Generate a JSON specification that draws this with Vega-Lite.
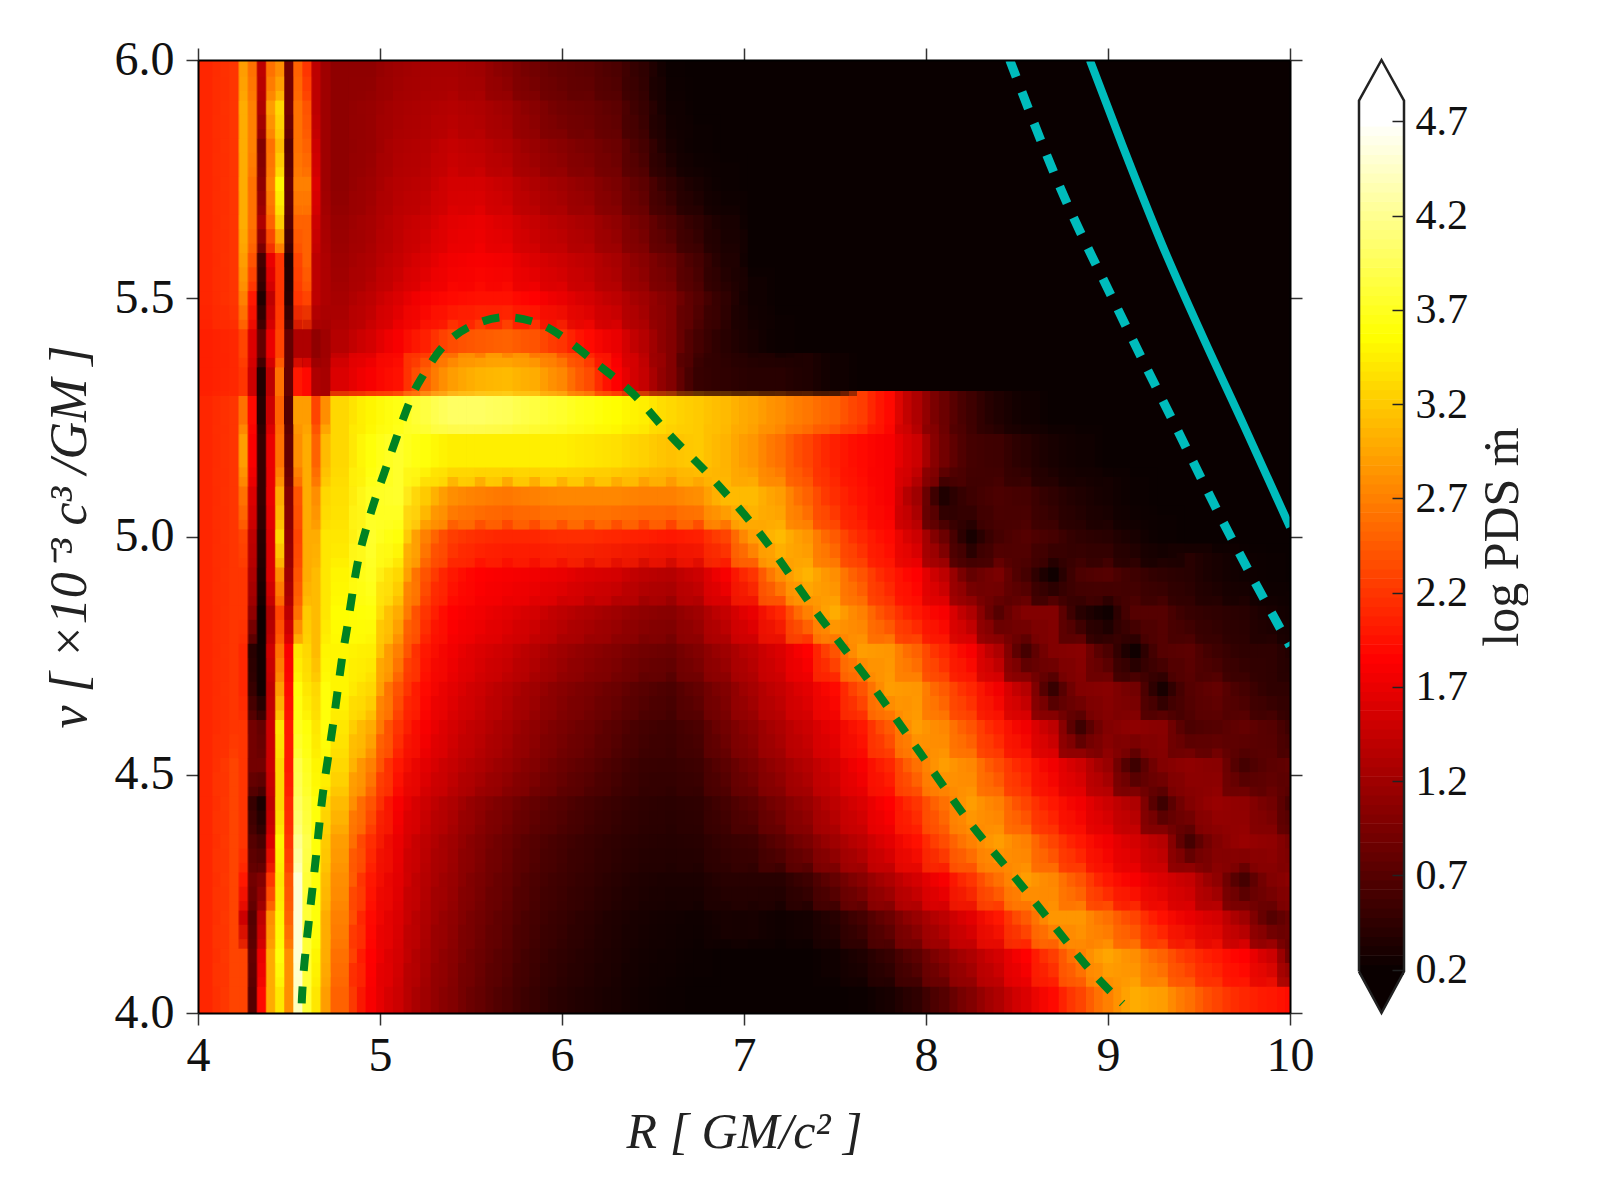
{"$schema":"https://vega.github.io/schema/vega-lite/v6.json","padding":{"left":43,"top":36,"right":0,"bottom":0},"background":"#ffffff","bounds":"flush","spacing":69,"config":{"font":"Liberation Serif"},
"datasets":{
"coarse":[
{"r":4.05,"n":4.04,"v":2.1},{"r":4.2,"n":4.04,"v":2.25},{"r":4.05,"n":4.12,"v":2.1},{"r":4.2,"n":4.12,"v":2.25},{"r":4.05,"n":4.2,"v":2.1},{"r":4.2,"n":4.2,"v":2.25},{"r":4.05,"n":4.28,"v":2.1},{"r":4.2,"n":4.28,"v":2.25},{"r":4.05,"n":4.36,"v":2.1},{"r":4.2,"n":4.36,"v":2.25},{"r":4.05,"n":4.44,"v":2.1},{"r":4.2,"n":4.44,"v":2.25},{"r":4.05,"n":4.52,"v":2.1},{"r":4.2,"n":4.52,"v":2.25},{"r":4.05,"n":4.6,"v":2.1},{"r":4.2,"n":4.6,"v":2.2},{"r":4.05,"n":4.68,"v":2.1},{"r":4.2,"n":4.68,"v":2.2},{"r":4.05,"n":4.76,"v":2.1},{"r":4.2,"n":4.76,"v":2.2},{"r":4.05,"n":4.84,"v":2.1},{"r":4.2,"n":4.84,"v":2.2},{"r":4.05,"n":4.92,"v":2.1},{"r":4.2,"n":4.92,"v":2.2},{"r":4.05,"n":5,"v":2.1},{"r":4.2,"n":5,"v":2.2},{"r":4.05,"n":5.08,"v":2.1},{"r":4.2,"n":5.08,"v":2.2},{"r":4.05,"n":5.17,"v":2.1},{"r":4.2,"n":5.17,"v":2.2},{"r":4.05,"n":5.26,"v":2.1},{"r":4.2,"n":5.26,"v":2.2},{"r":4.05,"n":5.34,"v":2.05},{"r":4.2,"n":5.34,"v":2.1},{"r":4.05,"n":5.42,"v":2.05},{"r":4.2,"n":5.42,"v":2.1},{"r":4.05,"n":5.5,"v":2.1},{"r":4.2,"n":5.5,"v":2.2},{"r":4.05,"n":5.58,"v":2.1},{"r":4.2,"n":5.58,"v":2.2},{"r":4.05,"n":5.66,"v":2.1},{"r":4.2,"n":5.66,"v":2.2},{"r":4.05,"n":5.74,"v":2.1},{"r":4.2,"n":5.74,"v":2.2},{"r":4.05,"n":5.82,"v":2.1},{"r":4.2,"n":5.82,"v":2.2},{"r":4.05,"n":5.9,"v":2.1},{"r":4.2,"n":5.9,"v":2.2},{"r":4.05,"n":5.98,"v":2.1},{"r":4.2,"n":5.98,"v":2.2},
{"r":4.8,"n":4.04,"v":2.5},{"r":4.95,"n":4.04,"v":1.8},{"r":5.1,"n":4.04,"v":1.5},{"r":5.25,"n":4.04,"v":1.2},{"r":5.4,"n":4.04,"v":1},{"r":5.55,"n":4.04,"v":0.8},{"r":5.7,"n":4.04,"v":0.65},{"r":5.85,"n":4.04,"v":0.5},{"r":6,"n":4.04,"v":0.4},{"r":6.15,"n":4.04,"v":0.35},{"r":6.3,"n":4.04,"v":0.3},{"r":6.45,"n":4.04,"v":0.25},{"r":6.6,"n":4.04,"v":0.22},{"r":7.65,"n":4.04,"v":0.22},{"r":7.8,"n":4.04,"v":0.3},{"r":7.95,"n":4.04,"v":0.45},{"r":8.1,"n":4.04,"v":0.7},{"r":8.25,"n":4.04,"v":1},{"r":8.4,"n":4.04,"v":1.3},{"r":8.55,"n":4.04,"v":1.6},{"r":8.7,"n":4.04,"v":1.9},{"r":8.85,"n":4.04,"v":2.3},{"r":9,"n":4.04,"v":2.7},{"r":9.15,"n":4.04,"v":3},{"r":9.3,"n":4.04,"v":2.9},{"r":9.45,"n":4.04,"v":2.6},{"r":9.6,"n":4.04,"v":2.3},{"r":9.75,"n":4.04,"v":2.1},{"r":9.9,"n":4.04,"v":2},{"r":10.05,"n":4.04,"v":1.9},
{"r":4.8,"n":4.12,"v":2.6},{"r":4.95,"n":4.12,"v":1.85},{"r":5.1,"n":4.12,"v":1.55},{"r":5.25,"n":4.12,"v":1.25},{"r":5.4,"n":4.12,"v":1.05},{"r":5.55,"n":4.12,"v":0.85},{"r":5.7,"n":4.12,"v":0.7},{"r":5.85,"n":4.12,"v":0.55},{"r":6,"n":4.12,"v":0.45},{"r":6.15,"n":4.12,"v":0.38},{"r":6.3,"n":4.12,"v":0.32},{"r":6.45,"n":4.12,"v":0.27},{"r":6.6,"n":4.12,"v":0.24},{"r":6.75,"n":4.12,"v":0.22},{"r":7.5,"n":4.12,"v":0.25},{"r":7.65,"n":4.12,"v":0.35},{"r":7.8,"n":4.12,"v":0.5},{"r":7.95,"n":4.12,"v":0.75},{"r":8.1,"n":4.12,"v":1.05},{"r":8.25,"n":4.12,"v":1.3},{"r":8.4,"n":4.12,"v":1.55},{"r":8.55,"n":4.12,"v":1.85},{"r":8.7,"n":4.12,"v":2.25},{"r":8.85,"n":4.12,"v":2.7},{"r":9,"n":4.12,"v":2.95},{"r":9.15,"n":4.12,"v":2.8},{"r":9.3,"n":4.12,"v":2.5},{"r":9.45,"n":4.12,"v":2.2},{"r":9.6,"n":4.12,"v":2},{"r":9.75,"n":4.12,"v":1.85},{"r":9.9,"n":4.12,"v":1.5},{"r":10.05,"n":4.12,"v":0.7},
{"r":4.8,"n":4.2,"v":2.7},{"r":4.95,"n":4.2,"v":1.9},{"r":5.1,"n":4.2,"v":1.6},{"r":5.25,"n":4.2,"v":1.3},{"r":5.4,"n":4.2,"v":1.1},{"r":5.55,"n":4.2,"v":0.9},{"r":5.7,"n":4.2,"v":0.75},{"r":5.85,"n":4.2,"v":0.6},{"r":6,"n":4.2,"v":0.5},{"r":6.15,"n":4.2,"v":0.42},{"r":6.3,"n":4.2,"v":0.35},{"r":6.45,"n":4.2,"v":0.3},{"r":6.6,"n":4.2,"v":0.27},{"r":6.75,"n":4.2,"v":0.25},{"r":6.9,"n":4.2,"v":0.3},{"r":7.05,"n":4.2,"v":0.3},{"r":7.2,"n":4.2,"v":0.25},{"r":7.35,"n":4.2,"v":0.28},{"r":7.5,"n":4.2,"v":0.4},{"r":7.65,"n":4.2,"v":0.6},{"r":7.8,"n":4.2,"v":0.85},{"r":7.95,"n":4.2,"v":1.15},{"r":8.1,"n":4.2,"v":1.4},{"r":8.25,"n":4.2,"v":1.65},{"r":8.4,"n":4.2,"v":2},{"r":8.55,"n":4.2,"v":2.45},{"r":8.7,"n":4.2,"v":2.85},{"r":8.85,"n":4.2,"v":2.85},{"r":9,"n":4.2,"v":2.6},{"r":9.15,"n":4.2,"v":2.3},{"r":9.3,"n":4.2,"v":1.95},{"r":9.45,"n":4.2,"v":1.7},{"r":9.6,"n":4.2,"v":1.55},{"r":9.75,"n":4.2,"v":1.2},{"r":9.9,"n":4.2,"v":0.7},{"r":10.05,"n":4.2,"v":0.9},
{"r":4.8,"n":4.28,"v":2.8},{"r":4.95,"n":4.28,"v":2},{"r":5.1,"n":4.28,"v":1.65},{"r":5.25,"n":4.28,"v":1.35},{"r":5.4,"n":4.28,"v":1.15},{"r":5.55,"n":4.28,"v":0.95},{"r":5.7,"n":4.28,"v":0.8},{"r":5.85,"n":4.28,"v":0.65},{"r":6,"n":4.28,"v":0.55},{"r":6.15,"n":4.28,"v":0.48},{"r":6.3,"n":4.28,"v":0.4},{"r":6.45,"n":4.28,"v":0.35},{"r":6.6,"n":4.28,"v":0.32},{"r":6.75,"n":4.28,"v":0.32},{"r":6.9,"n":4.28,"v":0.4},{"r":7.05,"n":4.28,"v":0.4},{"r":7.2,"n":4.28,"v":0.4},{"r":7.35,"n":4.28,"v":0.55},{"r":7.5,"n":4.28,"v":0.8},{"r":7.65,"n":4.28,"v":1.05},{"r":7.8,"n":4.28,"v":1.3},{"r":7.95,"n":4.28,"v":1.55},{"r":8.1,"n":4.28,"v":1.8},{"r":8.25,"n":4.28,"v":2.2},{"r":8.4,"n":4.28,"v":2.6},{"r":8.55,"n":4.28,"v":2.9},{"r":8.7,"n":4.28,"v":2.75},{"r":8.85,"n":4.28,"v":2.4},{"r":9,"n":4.28,"v":2},{"r":9.15,"n":4.28,"v":1.8},{"r":9.3,"n":4.28,"v":1.6},{"r":9.45,"n":4.28,"v":1.45},{"r":9.6,"n":4.28,"v":1.1},{"r":9.75,"n":4.28,"v":0.6},{"r":9.9,"n":4.28,"v":1},{"r":10.05,"n":4.28,"v":1.1},
{"r":4.8,"n":4.36,"v":2.9},{"r":4.95,"n":4.36,"v":2.15},{"r":5.1,"n":4.36,"v":1.7},{"r":5.25,"n":4.36,"v":1.4},{"r":5.4,"n":4.36,"v":1.2},{"r":5.55,"n":4.36,"v":1},{"r":5.7,"n":4.36,"v":0.85},{"r":5.85,"n":4.36,"v":0.7},{"r":6,"n":4.36,"v":0.6},{"r":6.15,"n":4.36,"v":0.52},{"r":6.3,"n":4.36,"v":0.45},{"r":6.45,"n":4.36,"v":0.4},{"r":6.6,"n":4.36,"v":0.38},{"r":6.75,"n":4.36,"v":0.4},{"r":6.9,"n":4.36,"v":0.5},{"r":7.05,"n":4.36,"v":0.55},{"r":7.2,"n":4.36,"v":0.75},{"r":7.35,"n":4.36,"v":0.95},{"r":7.5,"n":4.36,"v":1.2},{"r":7.65,"n":4.36,"v":1.4},{"r":7.8,"n":4.36,"v":1.65},{"r":7.95,"n":4.36,"v":1.95},{"r":8.1,"n":4.36,"v":2.35},{"r":8.25,"n":4.36,"v":2.7},{"r":8.4,"n":4.36,"v":2.9},{"r":8.55,"n":4.36,"v":2.7},{"r":8.7,"n":4.36,"v":2.3},{"r":8.85,"n":4.36,"v":2},{"r":9,"n":4.36,"v":1.75},{"r":9.15,"n":4.36,"v":1.55},{"r":9.3,"n":4.36,"v":1.35},{"r":9.45,"n":4.36,"v":0.6},{"r":9.6,"n":4.36,"v":1},{"r":9.75,"n":4.36,"v":1.15},{"r":9.9,"n":4.36,"v":1.1},{"r":10.05,"n":4.36,"v":0.9},
{"r":4.8,"n":4.44,"v":3.1},{"r":4.95,"n":4.44,"v":2.4},{"r":5.1,"n":4.44,"v":1.8},{"r":5.25,"n":4.44,"v":1.5},{"r":5.4,"n":4.44,"v":1.3},{"r":5.55,"n":4.44,"v":1.1},{"r":5.7,"n":4.44,"v":0.95},{"r":5.85,"n":4.44,"v":0.8},{"r":6,"n":4.44,"v":0.7},{"r":6.15,"n":4.44,"v":0.6},{"r":6.3,"n":4.44,"v":0.52},{"r":6.45,"n":4.44,"v":0.45},{"r":6.6,"n":4.44,"v":0.42},{"r":6.75,"n":4.44,"v":0.45},{"r":6.9,"n":4.44,"v":0.6},{"r":7.05,"n":4.44,"v":0.75},{"r":7.2,"n":4.44,"v":0.95},{"r":7.35,"n":4.44,"v":1.15},{"r":7.5,"n":4.44,"v":1.4},{"r":7.65,"n":4.44,"v":1.6},{"r":7.8,"n":4.44,"v":1.85},{"r":7.95,"n":4.44,"v":2.2},{"r":8.1,"n":4.44,"v":2.6},{"r":8.25,"n":4.44,"v":2.9},{"r":8.4,"n":4.44,"v":2.7},{"r":8.55,"n":4.44,"v":2.3},{"r":8.7,"n":4.44,"v":2},{"r":8.85,"n":4.44,"v":1.75},{"r":9,"n":4.44,"v":1.5},{"r":9.15,"n":4.44,"v":1.3},{"r":9.3,"n":4.44,"v":0.55},{"r":9.45,"n":4.44,"v":1},{"r":9.6,"n":4.44,"v":1.15},{"r":9.75,"n":4.44,"v":1.1},{"r":9.9,"n":4.44,"v":0.9},{"r":10.05,"n":4.44,"v":0.55},
{"r":4.8,"n":4.52,"v":3.3},{"r":4.95,"n":4.52,"v":2.7},{"r":5.1,"n":4.52,"v":2},{"r":5.25,"n":4.52,"v":1.65},{"r":5.4,"n":4.52,"v":1.45},{"r":5.55,"n":4.52,"v":1.3},{"r":5.7,"n":4.52,"v":1.15},{"r":5.85,"n":4.52,"v":1},{"r":6,"n":4.52,"v":0.85},{"r":6.15,"n":4.52,"v":0.75},{"r":6.3,"n":4.52,"v":0.62},{"r":6.45,"n":4.52,"v":0.52},{"r":6.6,"n":4.52,"v":0.5},{"r":6.75,"n":4.52,"v":0.55},{"r":6.9,"n":4.52,"v":0.75},{"r":7.05,"n":4.52,"v":0.95},{"r":7.2,"n":4.52,"v":1.15},{"r":7.35,"n":4.52,"v":1.35},{"r":7.5,"n":4.52,"v":1.55},{"r":7.65,"n":4.52,"v":1.8},{"r":7.8,"n":4.52,"v":2.1},{"r":7.95,"n":4.52,"v":2.6},{"r":8.1,"n":4.52,"v":2.9},{"r":8.25,"n":4.52,"v":2.75},{"r":8.4,"n":4.52,"v":2.35},{"r":8.55,"n":4.52,"v":2.05},{"r":8.7,"n":4.52,"v":1.75},{"r":8.85,"n":4.52,"v":1.5},{"r":9,"n":4.52,"v":1.15},{"r":9.15,"n":4.52,"v":0.55},{"r":9.3,"n":4.52,"v":1},{"r":9.45,"n":4.52,"v":1.1},{"r":9.6,"n":4.52,"v":1.05},{"r":9.75,"n":4.52,"v":0.6},{"r":9.9,"n":4.52,"v":0.75},{"r":10.05,"n":4.52,"v":0.8},
{"r":4.8,"n":4.6,"v":3.4},{"r":4.95,"n":4.6,"v":3},{"r":5.1,"n":4.6,"v":2.2},{"r":5.25,"n":4.6,"v":1.8},{"r":5.4,"n":4.6,"v":1.55},{"r":5.55,"n":4.6,"v":1.4},{"r":5.7,"n":4.6,"v":1.25},{"r":5.85,"n":4.6,"v":1.1},{"r":6,"n":4.6,"v":0.95},{"r":6.15,"n":4.6,"v":0.85},{"r":6.3,"n":4.6,"v":0.72},{"r":6.45,"n":4.6,"v":0.6},{"r":6.6,"n":4.6,"v":0.55},{"r":6.75,"n":4.6,"v":0.65},{"r":6.9,"n":4.6,"v":0.9},{"r":7.05,"n":4.6,"v":1.1},{"r":7.2,"n":4.6,"v":1.3},{"r":7.35,"n":4.6,"v":1.5},{"r":7.5,"n":4.6,"v":1.7},{"r":7.65,"n":4.6,"v":2},{"r":7.8,"n":4.6,"v":2.45},{"r":7.95,"n":4.6,"v":2.9},{"r":8.1,"n":4.6,"v":2.75},{"r":8.25,"n":4.6,"v":2.4},{"r":8.4,"n":4.6,"v":2.05},{"r":8.55,"n":4.6,"v":1.75},{"r":8.7,"n":4.6,"v":1.4},{"r":8.85,"n":4.6,"v":0.55},{"r":9,"n":4.6,"v":1},{"r":9.15,"n":4.6,"v":1.1},{"r":9.3,"n":4.6,"v":1.05},{"r":9.45,"n":4.6,"v":0.65},{"r":9.6,"n":4.6,"v":0.7},{"r":9.75,"n":4.6,"v":0.8},{"r":9.9,"n":4.6,"v":0.7},{"r":10.05,"n":4.6,"v":0.5},
{"r":4.8,"n":4.68,"v":3.5},{"r":4.95,"n":4.68,"v":3.3},{"r":5.1,"n":4.68,"v":2.4},{"r":5.25,"n":4.68,"v":1.9},{"r":5.4,"n":4.68,"v":1.65},{"r":5.55,"n":4.68,"v":1.5},{"r":5.7,"n":4.68,"v":1.35},{"r":5.85,"n":4.68,"v":1.2},{"r":6,"n":4.68,"v":1.05},{"r":6.15,"n":4.68,"v":0.95},{"r":6.3,"n":4.68,"v":0.85},{"r":6.45,"n":4.68,"v":0.72},{"r":6.6,"n":4.68,"v":0.65},{"r":6.75,"n":4.68,"v":0.8},{"r":6.9,"n":4.68,"v":1},{"r":7.05,"n":4.68,"v":1.25},{"r":7.2,"n":4.68,"v":1.45},{"r":7.35,"n":4.68,"v":1.65},{"r":7.5,"n":4.68,"v":1.9},{"r":7.65,"n":4.68,"v":2.4},{"r":7.8,"n":4.68,"v":2.9},{"r":7.95,"n":4.68,"v":2.85},{"r":8.1,"n":4.68,"v":2.45},{"r":8.25,"n":4.68,"v":2.1},{"r":8.4,"n":4.68,"v":1.75},{"r":8.55,"n":4.68,"v":1.35},{"r":8.7,"n":4.68,"v":0.5},{"r":8.85,"n":4.68,"v":1},{"r":9,"n":4.68,"v":1.05},{"r":9.15,"n":4.68,"v":0.9},{"r":9.3,"n":4.68,"v":0.3},{"r":9.45,"n":4.68,"v":0.7},{"r":9.6,"n":4.68,"v":0.8},{"r":9.75,"n":4.68,"v":0.6},{"r":9.9,"n":4.68,"v":0.45},{"r":10.05,"n":4.68,"v":0.45},
{"r":4.8,"n":4.76,"v":3.5},{"r":4.95,"n":4.76,"v":3.45},{"r":5.1,"n":4.76,"v":2.7},{"r":5.25,"n":4.76,"v":2},{"r":5.4,"n":4.76,"v":1.75},{"r":5.55,"n":4.76,"v":1.6},{"r":5.7,"n":4.76,"v":1.5},{"r":5.85,"n":4.76,"v":1.35},{"r":6,"n":4.76,"v":1.2},{"r":6.15,"n":4.76,"v":1.1},{"r":6.3,"n":4.76,"v":1},{"r":6.45,"n":4.76,"v":0.9},{"r":6.6,"n":4.76,"v":0.85},{"r":6.75,"n":4.76,"v":1},{"r":6.9,"n":4.76,"v":1.2},{"r":7.05,"n":4.76,"v":1.4},{"r":7.2,"n":4.76,"v":1.6},{"r":7.35,"n":4.76,"v":1.85},{"r":7.5,"n":4.76,"v":2.4},{"r":7.65,"n":4.76,"v":2.9},{"r":7.8,"n":4.76,"v":2.85},{"r":7.95,"n":4.76,"v":2.5},{"r":8.1,"n":4.76,"v":2.1},{"r":8.25,"n":4.76,"v":1.8},{"r":8.4,"n":4.76,"v":1.3},{"r":8.55,"n":4.76,"v":0.6},{"r":8.7,"n":4.76,"v":1},{"r":8.85,"n":4.76,"v":1.05},{"r":9,"n":4.76,"v":0.65},{"r":9.15,"n":4.76,"v":0.25},{"r":9.3,"n":4.76,"v":0.7},{"r":9.45,"n":4.76,"v":0.75},{"r":9.6,"n":4.76,"v":0.55},{"r":9.75,"n":4.76,"v":0.45},{"r":9.9,"n":4.76,"v":0.45},{"r":10.05,"n":4.76,"v":0.35},
{"r":4.8,"n":4.84,"v":3.55},{"r":4.95,"n":4.84,"v":3.6},{"r":5.1,"n":4.84,"v":3},{"r":5.25,"n":4.84,"v":2.2},{"r":5.4,"n":4.84,"v":1.85},{"r":5.55,"n":4.84,"v":1.75},{"r":5.7,"n":4.84,"v":1.65},{"r":5.85,"n":4.84,"v":1.55},{"r":6,"n":4.84,"v":1.4},{"r":6.15,"n":4.84,"v":1.3},{"r":6.3,"n":4.84,"v":1.2},{"r":6.45,"n":4.84,"v":1.1},{"r":6.6,"n":4.84,"v":1.05},{"r":6.75,"n":4.84,"v":1.2},{"r":6.9,"n":4.84,"v":1.45},{"r":7.05,"n":4.84,"v":1.7},{"r":7.2,"n":4.84,"v":2.1},{"r":7.35,"n":4.84,"v":2.7},{"r":7.5,"n":4.84,"v":3},{"r":7.65,"n":4.84,"v":2.7},{"r":7.8,"n":4.84,"v":2.3},{"r":7.95,"n":4.84,"v":2},{"r":8.1,"n":4.84,"v":1.8},{"r":8.25,"n":4.84,"v":1.3},{"r":8.4,"n":4.84,"v":0.7},{"r":8.55,"n":4.84,"v":1},{"r":8.7,"n":4.84,"v":1},{"r":8.85,"n":4.84,"v":0.4},{"r":9,"n":4.84,"v":0.25},{"r":9.15,"n":4.84,"v":0.7},{"r":9.3,"n":4.84,"v":0.7},{"r":9.45,"n":4.84,"v":0.5},{"r":9.6,"n":4.84,"v":0.45},{"r":9.75,"n":4.84,"v":0.4},{"r":9.9,"n":4.84,"v":0.3},{"r":10.05,"n":4.84,"v":0.25},
{"r":4.8,"n":4.92,"v":3.5},{"r":4.95,"n":4.92,"v":3.7},{"r":5.1,"n":4.92,"v":3.3},{"r":5.25,"n":4.92,"v":2.4},{"r":5.4,"n":4.92,"v":2},{"r":5.55,"n":4.92,"v":1.85},{"r":5.7,"n":4.92,"v":1.8},{"r":5.85,"n":4.92,"v":1.75},{"r":6,"n":4.92,"v":1.7},{"r":6.15,"n":4.92,"v":1.6},{"r":6.3,"n":4.92,"v":1.55},{"r":6.45,"n":4.92,"v":1.4},{"r":6.6,"n":4.92,"v":1.35},{"r":6.75,"n":4.92,"v":1.5},{"r":6.9,"n":4.92,"v":1.8},{"r":7.05,"n":4.92,"v":2.2},{"r":7.2,"n":4.92,"v":2.8},{"r":7.35,"n":4.92,"v":3.05},{"r":7.5,"n":4.92,"v":2.8},{"r":7.65,"n":4.92,"v":2.4},{"r":7.8,"n":4.92,"v":2.05},{"r":7.95,"n":4.92,"v":1.85},{"r":8.1,"n":4.92,"v":1.4},{"r":8.25,"n":4.92,"v":0.8},{"r":8.4,"n":4.92,"v":0.95},{"r":8.55,"n":4.92,"v":0.6},{"r":8.7,"n":4.92,"v":0.25},{"r":8.85,"n":4.92,"v":0.65},{"r":9,"n":4.92,"v":0.7},{"r":9.15,"n":4.92,"v":0.55},{"r":9.3,"n":4.92,"v":0.45},{"r":9.45,"n":4.92,"v":0.4},{"r":9.6,"n":4.92,"v":0.3},{"r":9.75,"n":4.92,"v":0.25},{"r":9.9,"n":4.92,"v":0.22},
{"r":4.8,"n":5,"v":3.4},{"r":4.95,"n":5,"v":3.75},{"r":5.1,"n":5,"v":3.6},{"r":5.25,"n":5,"v":2.7},{"r":5.4,"n":5,"v":2.25},{"r":5.55,"n":5,"v":2.15},{"r":5.7,"n":5,"v":2.1},{"r":5.85,"n":5,"v":2.1},{"r":6,"n":5,"v":2.15},{"r":6.15,"n":5,"v":2.15},{"r":6.3,"n":5,"v":2.1},{"r":6.45,"n":5,"v":2.05},{"r":6.6,"n":5,"v":2},{"r":6.75,"n":5,"v":2.05},{"r":6.9,"n":5,"v":2.3},{"r":7.05,"n":5,"v":2.9},{"r":7.2,"n":5,"v":3.1},{"r":7.35,"n":5,"v":2.85},{"r":7.5,"n":5,"v":2.45},{"r":7.65,"n":5,"v":2.1},{"r":7.8,"n":5,"v":1.9},{"r":7.95,"n":5,"v":1.5},{"r":8.1,"n":5,"v":0.85},{"r":8.25,"n":5,"v":0.3},{"r":8.4,"n":5,"v":0.6},{"r":8.55,"n":5,"v":0.7},{"r":8.7,"n":5,"v":0.6},{"r":8.85,"n":5,"v":0.45},{"r":9,"n":5,"v":0.4},{"r":9.15,"n":5,"v":0.3},{"r":9.3,"n":5,"v":0.22},
{"r":4.8,"n":5.08,"v":3.35},{"r":4.95,"n":5.08,"v":3.7},{"r":5.1,"n":5.08,"v":3.75},{"r":5.25,"n":5.08,"v":3.2},{"r":5.4,"n":5.08,"v":2.8},{"r":5.55,"n":5.08,"v":2.7},{"r":5.7,"n":5.08,"v":2.65},{"r":5.85,"n":5.08,"v":2.7},{"r":6,"n":5.08,"v":2.75},{"r":6.15,"n":5.08,"v":2.75},{"r":6.3,"n":5.08,"v":2.75},{"r":6.45,"n":5.08,"v":2.7},{"r":6.6,"n":5.08,"v":2.7},{"r":6.75,"n":5.08,"v":2.8},{"r":6.9,"n":5.08,"v":3.1},{"r":7.05,"n":5.08,"v":3.1},{"r":7.2,"n":5.08,"v":2.9},{"r":7.35,"n":5.08,"v":2.5},{"r":7.5,"n":5.08,"v":2.15},{"r":7.65,"n":5.08,"v":1.95},{"r":7.8,"n":5.08,"v":1.8},{"r":7.95,"n":5.08,"v":1.2},{"r":8.1,"n":5.08,"v":0.35},{"r":8.25,"n":5.08,"v":0.55},{"r":8.4,"n":5.08,"v":0.65},{"r":8.55,"n":5.08,"v":0.6},{"r":8.7,"n":5.08,"v":0.45},{"r":8.85,"n":5.08,"v":0.35},{"r":9,"n":5.08,"v":0.28},{"r":9.15,"n":5.08,"v":0.22},
{"r":4.8,"n":5.17,"v":3.3},{"r":4.95,"n":5.17,"v":3.6},{"r":5.1,"n":5.17,"v":3.75},{"r":5.25,"n":5.17,"v":3.6},{"r":5.4,"n":5.17,"v":3.45},{"r":5.55,"n":5.17,"v":3.45},{"r":5.7,"n":5.17,"v":3.45},{"r":5.85,"n":5.17,"v":3.45},{"r":6,"n":5.17,"v":3.45},{"r":6.15,"n":5.17,"v":3.4},{"r":6.3,"n":5.17,"v":3.35},{"r":6.45,"n":5.17,"v":3.25},{"r":6.6,"n":5.17,"v":3.15},{"r":6.75,"n":5.17,"v":3.2},{"r":6.9,"n":5.17,"v":3.05},{"r":7.05,"n":5.17,"v":2.85},{"r":7.2,"n":5.17,"v":2.6},{"r":7.35,"n":5.17,"v":2.3},{"r":7.5,"n":5.17,"v":2.05},{"r":7.65,"n":5.17,"v":1.9},{"r":7.8,"n":5.17,"v":1.8},{"r":7.95,"n":5.17,"v":1.5},{"r":8.1,"n":5.17,"v":0.9},{"r":8.25,"n":5.17,"v":0.6},{"r":8.4,"n":5.17,"v":0.55},{"r":8.55,"n":5.17,"v":0.4},{"r":8.7,"n":5.17,"v":0.3},{"r":8.85,"n":5.17,"v":0.25},
{"r":4.8,"n":5.26,"v":3.3},{"r":4.95,"n":5.26,"v":3.5},{"r":5.1,"n":5.26,"v":3.65},{"r":5.25,"n":5.26,"v":3.85},{"r":5.4,"n":5.26,"v":4},{"r":5.55,"n":5.26,"v":4},{"r":5.7,"n":5.26,"v":3.95},{"r":5.85,"n":5.26,"v":3.85},{"r":6,"n":5.26,"v":3.75},{"r":6.15,"n":5.26,"v":3.65},{"r":6.3,"n":5.26,"v":3.55},{"r":6.45,"n":5.26,"v":3.45},{"r":6.6,"n":5.26,"v":3.3},{"r":6.75,"n":5.26,"v":3.2},{"r":6.9,"n":5.26,"v":3.1},{"r":7.05,"n":5.26,"v":2.95},{"r":7.2,"n":5.26,"v":2.8},{"r":7.35,"n":5.26,"v":2.65},{"r":7.5,"n":5.26,"v":2.5},{"r":7.65,"n":5.26,"v":2.25},{"r":7.8,"n":5.26,"v":1.9},{"r":7.95,"n":5.26,"v":1.3},{"r":8.1,"n":5.26,"v":0.85},{"r":8.25,"n":5.26,"v":0.55},{"r":8.4,"n":5.26,"v":0.35},{"r":8.55,"n":5.26,"v":0.25},
{"r":4.8,"n":5.34,"v":1.6},{"r":4.95,"n":5.34,"v":1.8},{"r":5.1,"n":5.34,"v":1.95},{"r":5.25,"n":5.34,"v":2.5},{"r":5.4,"n":5.34,"v":2.9},{"r":5.55,"n":5.34,"v":3.05},{"r":5.7,"n":5.34,"v":3.1},{"r":5.85,"n":5.34,"v":3},{"r":6,"n":5.34,"v":2.75},{"r":6.15,"n":5.34,"v":2.35},{"r":6.3,"n":5.34,"v":1.85},{"r":6.45,"n":5.34,"v":1.45},{"r":6.6,"n":5.34,"v":1},{"r":6.75,"n":5.34,"v":0.5},{"r":6.9,"n":5.34,"v":0.45},{"r":7.05,"n":5.34,"v":0.4},{"r":7.2,"n":5.34,"v":0.4},{"r":7.35,"n":5.34,"v":0.35},{"r":7.5,"n":5.34,"v":0.25},
{"r":4.8,"n":5.42,"v":1.35},{"r":4.95,"n":5.42,"v":1.55},{"r":5.1,"n":5.42,"v":1.8},{"r":5.25,"n":5.42,"v":2.05},{"r":5.4,"n":5.42,"v":2.35},{"r":5.55,"n":5.42,"v":2.45},{"r":5.7,"n":5.42,"v":2.5},{"r":5.85,"n":5.42,"v":2.4},{"r":6,"n":5.42,"v":2.2},{"r":6.15,"n":5.42,"v":1.9},{"r":6.3,"n":5.42,"v":1.7},{"r":6.45,"n":5.42,"v":1.35},{"r":6.6,"n":5.42,"v":1},{"r":6.75,"n":5.42,"v":0.6},{"r":6.9,"n":5.42,"v":0.4},{"r":7.05,"n":5.42,"v":0.3},{"r":7.2,"n":5.42,"v":0.22},
{"r":4.8,"n":5.5,"v":1.25},{"r":4.95,"n":5.5,"v":1.4},{"r":5.1,"n":5.5,"v":1.6},{"r":5.25,"n":5.5,"v":1.8},{"r":5.4,"n":5.5,"v":1.9},{"r":5.55,"n":5.5,"v":1.95},{"r":5.7,"n":5.5,"v":1.95},{"r":5.85,"n":5.5,"v":1.85},{"r":6,"n":5.5,"v":1.7},{"r":6.15,"n":5.5,"v":1.55},{"r":6.3,"n":5.5,"v":1.4},{"r":6.45,"n":5.5,"v":1.2},{"r":6.6,"n":5.5,"v":1},{"r":6.75,"n":5.5,"v":0.7},{"r":6.9,"n":5.5,"v":0.45},{"r":7.05,"n":5.5,"v":0.25},
{"r":4.8,"n":5.58,"v":1.2},{"r":4.95,"n":5.58,"v":1.3},{"r":5.1,"n":5.58,"v":1.45},{"r":5.25,"n":5.58,"v":1.6},{"r":5.4,"n":5.58,"v":1.75},{"r":5.55,"n":5.58,"v":1.8},{"r":5.7,"n":5.58,"v":1.75},{"r":5.85,"n":5.58,"v":1.6},{"r":6,"n":5.58,"v":1.5},{"r":6.15,"n":5.58,"v":1.4},{"r":6.3,"n":5.58,"v":1.25},{"r":6.45,"n":5.58,"v":1.05},{"r":6.6,"n":5.58,"v":0.85},{"r":6.75,"n":5.58,"v":0.6},{"r":6.9,"n":5.58,"v":0.35},
{"r":4.8,"n":5.66,"v":1.15},{"r":4.95,"n":5.66,"v":1.25},{"r":5.1,"n":5.66,"v":1.4},{"r":5.25,"n":5.66,"v":1.5},{"r":5.4,"n":5.66,"v":1.65},{"r":5.55,"n":5.66,"v":1.7},{"r":5.7,"n":5.66,"v":1.6},{"r":5.85,"n":5.66,"v":1.45},{"r":6,"n":5.66,"v":1.35},{"r":6.15,"n":5.66,"v":1.25},{"r":6.3,"n":5.66,"v":1.1},{"r":6.45,"n":5.66,"v":0.9},{"r":6.6,"n":5.66,"v":0.65},{"r":6.75,"n":5.66,"v":0.45},{"r":6.9,"n":5.66,"v":0.3},
{"r":4.8,"n":5.74,"v":1.1},{"r":4.95,"n":5.74,"v":1.2},{"r":5.1,"n":5.74,"v":1.35},{"r":5.25,"n":5.74,"v":1.4},{"r":5.4,"n":5.74,"v":1.55},{"r":5.55,"n":5.74,"v":1.55},{"r":5.7,"n":5.74,"v":1.45},{"r":5.85,"n":5.74,"v":1.3},{"r":6,"n":5.74,"v":1.2},{"r":6.15,"n":5.74,"v":1.1},{"r":6.3,"n":5.74,"v":0.95},{"r":6.45,"n":5.74,"v":0.75},{"r":6.6,"n":5.74,"v":0.45},{"r":6.75,"n":5.74,"v":0.3},{"r":6.9,"n":5.74,"v":0.22},
{"r":4.8,"n":5.82,"v":1.1},{"r":4.95,"n":5.82,"v":1.15},{"r":5.1,"n":5.82,"v":1.3},{"r":5.25,"n":5.82,"v":1.35},{"r":5.4,"n":5.82,"v":1.45},{"r":5.55,"n":5.82,"v":1.4},{"r":5.7,"n":5.82,"v":1.3},{"r":5.85,"n":5.82,"v":1.15},{"r":6,"n":5.82,"v":1.05},{"r":6.15,"n":5.82,"v":0.95},{"r":6.3,"n":5.82,"v":0.85},{"r":6.45,"n":5.82,"v":0.6},{"r":6.6,"n":5.82,"v":0.3},{"r":6.75,"n":5.82,"v":0.22},
{"r":4.8,"n":5.9,"v":1.1},{"r":4.95,"n":5.9,"v":1.15},{"r":5.1,"n":5.9,"v":1.25},{"r":5.25,"n":5.9,"v":1.3},{"r":5.4,"n":5.9,"v":1.35},{"r":5.55,"n":5.9,"v":1.3},{"r":5.7,"n":5.9,"v":1.2},{"r":5.85,"n":5.9,"v":1.05},{"r":6,"n":5.9,"v":0.9},{"r":6.15,"n":5.9,"v":0.85},{"r":6.3,"n":5.9,"v":0.75},{"r":6.45,"n":5.9,"v":0.5},{"r":6.6,"n":5.9,"v":0.25},
{"r":4.8,"n":5.98,"v":1.1},{"r":4.95,"n":5.98,"v":1.1},{"r":5.1,"n":5.98,"v":1.2},{"r":5.25,"n":5.98,"v":1.25},{"r":5.4,"n":5.98,"v":1.25},{"r":5.55,"n":5.98,"v":1.2},{"r":5.7,"n":5.98,"v":1.05},{"r":5.85,"n":5.98,"v":0.9},{"r":6,"n":5.98,"v":0.8},{"r":6.15,"n":5.98,"v":0.75},{"r":6.3,"n":5.98,"v":0.65},{"r":6.45,"n":5.98,"v":0.45},{"r":6.6,"n":5.98,"v":0.22}
],
"fine":[
{"r":4.2,"n":4.04,"v":2.3},{"r":4.25,"n":4.04,"v":2.3},{"r":4.3,"n":4.04,"v":0.7},{"r":4.35,"n":4.04,"v":1.9},{"r":4.4,"n":4.04,"v":3},{"r":4.45,"n":4.04,"v":3.4},{"r":4.5,"n":4.04,"v":2.8},{"r":4.55,"n":4.04,"v":4.4},{"r":4.6,"n":4.04,"v":3.8},{"r":4.65,"n":4.04,"v":3.4},{"r":4.7,"n":4.04,"v":2.9},
{"r":4.2,"n":4.12,"v":2.3},{"r":4.25,"n":4.12,"v":2.3},{"r":4.3,"n":4.12,"v":0.8},{"r":4.35,"n":4.12,"v":1.7},{"r":4.4,"n":4.12,"v":3},{"r":4.45,"n":4.12,"v":3.6},{"r":4.5,"n":4.12,"v":2.8},{"r":4.55,"n":4.12,"v":4.5},{"r":4.6,"n":4.12,"v":3.8},{"r":4.65,"n":4.12,"v":3.5},{"r":4.7,"n":4.12,"v":3},
{"r":4.2,"n":4.2,"v":2.3},{"r":4.25,"n":4.2,"v":1.5},{"r":4.3,"n":4.2,"v":0.7},{"r":4.35,"n":4.2,"v":1.4},{"r":4.4,"n":4.2,"v":2.8},{"r":4.45,"n":4.2,"v":3.5},{"r":4.5,"n":4.2,"v":2.5},{"r":4.55,"n":4.2,"v":4.5},{"r":4.6,"n":4.2,"v":3.8},{"r":4.65,"n":4.2,"v":3.6},{"r":4.7,"n":4.2,"v":3},
{"r":4.2,"n":4.28,"v":2.3},{"r":4.25,"n":4.28,"v":2},{"r":4.3,"n":4.28,"v":0.9},{"r":4.35,"n":4.28,"v":1},{"r":4.4,"n":4.28,"v":2.2},{"r":4.45,"n":4.28,"v":3.4},{"r":4.5,"n":4.28,"v":2.4},{"r":4.55,"n":4.28,"v":4.5},{"r":4.6,"n":4.28,"v":3.8},{"r":4.65,"n":4.28,"v":3.6},{"r":4.7,"n":4.28,"v":3.1},
{"r":4.2,"n":4.36,"v":2.3},{"r":4.25,"n":4.36,"v":2.2},{"r":4.3,"n":4.36,"v":0.7},{"r":4.35,"n":4.36,"v":0.6},{"r":4.4,"n":4.36,"v":1.6},{"r":4.45,"n":4.36,"v":3.5},{"r":4.5,"n":4.36,"v":2.2},{"r":4.55,"n":4.36,"v":4.2},{"r":4.6,"n":4.36,"v":3.9},{"r":4.65,"n":4.36,"v":3.6},{"r":4.7,"n":4.36,"v":3.2},
{"r":4.2,"n":4.44,"v":2.3},{"r":4.25,"n":4.44,"v":2.2},{"r":4.3,"n":4.44,"v":0.5},{"r":4.35,"n":4.44,"v":0.3},{"r":4.4,"n":4.44,"v":1.4},{"r":4.45,"n":4.44,"v":3.3},{"r":4.5,"n":4.44,"v":2.1},{"r":4.55,"n":4.44,"v":4},{"r":4.6,"n":4.44,"v":3.8},{"r":4.65,"n":4.44,"v":3.6},{"r":4.7,"n":4.44,"v":3.3},
{"r":4.2,"n":4.52,"v":2.3},{"r":4.25,"n":4.52,"v":2.2},{"r":4.3,"n":4.52,"v":0.9},{"r":4.35,"n":4.52,"v":0.9},{"r":4.4,"n":4.52,"v":1.5},{"r":4.45,"n":4.52,"v":3.3},{"r":4.5,"n":4.52,"v":2},{"r":4.55,"n":4.52,"v":3.9},{"r":4.6,"n":4.52,"v":3.7},{"r":4.65,"n":4.52,"v":3.5},{"r":4.7,"n":4.52,"v":3.5},
{"r":4.2,"n":4.6,"v":2.2},{"r":4.25,"n":4.6,"v":2.2},{"r":4.3,"n":4.6,"v":0.9},{"r":4.35,"n":4.6,"v":0.8},{"r":4.4,"n":4.6,"v":1.5},{"r":4.45,"n":4.6,"v":3.4},{"r":4.5,"n":4.6,"v":2},{"r":4.55,"n":4.6,"v":3.7},{"r":4.6,"n":4.6,"v":3.6},{"r":4.65,"n":4.6,"v":3.4},{"r":4.7,"n":4.6,"v":3.6},
{"r":4.2,"n":4.68,"v":2.2},{"r":4.25,"n":4.68,"v":2.1},{"r":4.3,"n":4.68,"v":0.5},{"r":4.35,"n":4.68,"v":0.25},{"r":4.4,"n":4.68,"v":1.4},{"r":4.45,"n":4.68,"v":2.9},{"r":4.5,"n":4.68,"v":1.9},{"r":4.55,"n":4.68,"v":3.6},{"r":4.6,"n":4.68,"v":3.4},{"r":4.65,"n":4.68,"v":3.3},{"r":4.7,"n":4.68,"v":3.6},
{"r":4.2,"n":4.76,"v":2.2},{"r":4.25,"n":4.76,"v":2.1},{"r":4.3,"n":4.76,"v":0.4},{"r":4.35,"n":4.76,"v":0.25},{"r":4.4,"n":4.76,"v":1.5},{"r":4.45,"n":4.76,"v":2.6},{"r":4.5,"n":4.76,"v":1.8},{"r":4.55,"n":4.76,"v":3.4},{"r":4.6,"n":4.76,"v":3.3},{"r":4.65,"n":4.76,"v":3.1},{"r":4.7,"n":4.76,"v":3.5},
{"r":4.2,"n":4.84,"v":2.2},{"r":4.25,"n":4.84,"v":2.2},{"r":4.3,"n":4.84,"v":1.1},{"r":4.35,"n":4.84,"v":0.22},{"r":4.4,"n":4.84,"v":1.3},{"r":4.45,"n":4.84,"v":2.3},{"r":4.5,"n":4.84,"v":1.4},{"r":4.55,"n":4.84,"v":2.6},{"r":4.6,"n":4.84,"v":3.2},{"r":4.65,"n":4.84,"v":3.1},{"r":4.7,"n":4.84,"v":3.4},
{"r":4.2,"n":4.92,"v":2.2},{"r":4.25,"n":4.92,"v":2.2},{"r":4.3,"n":4.92,"v":1.3},{"r":4.35,"n":4.92,"v":0.35},{"r":4.4,"n":4.92,"v":1.6},{"r":4.45,"n":4.92,"v":2.8},{"r":4.5,"n":4.92,"v":1.2},{"r":4.55,"n":4.92,"v":2.4},{"r":4.6,"n":4.92,"v":3},{"r":4.65,"n":4.92,"v":3.1},{"r":4.7,"n":4.92,"v":3.4},
{"r":4.2,"n":5,"v":2.2},{"r":4.25,"n":5,"v":2.3},{"r":4.3,"n":5,"v":1.4},{"r":4.35,"n":5,"v":0.4},{"r":4.4,"n":5,"v":1.6},{"r":4.45,"n":5,"v":3.3},{"r":4.5,"n":5,"v":1.1},{"r":4.55,"n":5,"v":2.3},{"r":4.6,"n":5,"v":3},{"r":4.65,"n":5,"v":3},{"r":4.7,"n":5,"v":3.4},
{"r":4.2,"n":5.08,"v":2.2},{"r":4.25,"n":5.08,"v":2.6},{"r":4.3,"n":5.08,"v":1.6},{"r":4.35,"n":5.08,"v":0.5},{"r":4.4,"n":5.08,"v":1.7},{"r":4.45,"n":5.08,"v":3},{"r":4.5,"n":5.08,"v":1},{"r":4.55,"n":5.08,"v":2.4},{"r":4.6,"n":5.08,"v":3},{"r":4.65,"n":5.08,"v":2.8},{"r":4.7,"n":5.08,"v":3.3},
{"r":4.2,"n":5.17,"v":2.2},{"r":4.25,"n":5.17,"v":2.9},{"r":4.3,"n":5.17,"v":1.8},{"r":4.35,"n":5.17,"v":0.5},{"r":4.4,"n":5.17,"v":1.7},{"r":4.45,"n":5.17,"v":2.6},{"r":4.5,"n":5.17,"v":0.8},{"r":4.55,"n":5.17,"v":2.8},{"r":4.6,"n":5.17,"v":3},{"r":4.65,"n":5.17,"v":2.5},{"r":4.7,"n":5.17,"v":3.1},
{"r":4.2,"n":5.26,"v":2.2},{"r":4.25,"n":5.26,"v":2.6},{"r":4.3,"n":5.26,"v":1.9},{"r":4.35,"n":5.26,"v":0.4},{"r":4.4,"n":5.26,"v":1.5},{"r":4.45,"n":5.26,"v":2.5},{"r":4.5,"n":5.26,"v":0.7},{"r":4.55,"n":5.26,"v":2.9},{"r":4.6,"n":5.26,"v":2.9},{"r":4.65,"n":5.26,"v":2.3},{"r":4.7,"n":5.26,"v":2.8},
{"r":4.2,"n":5.34,"v":2.1},{"r":4.25,"n":5.34,"v":2.2},{"r":4.3,"n":5.34,"v":1.5},{"r":4.35,"n":5.34,"v":0.35},{"r":4.4,"n":5.34,"v":1.4},{"r":4.45,"n":5.34,"v":2.6},{"r":4.5,"n":5.34,"v":0.8},{"r":4.55,"n":5.34,"v":2},{"r":4.6,"n":5.34,"v":1.9},{"r":4.65,"n":5.34,"v":1.3},{"r":4.7,"n":5.34,"v":1.25},
{"r":4.2,"n":5.42,"v":2.1},{"r":4.25,"n":5.42,"v":2.3},{"r":4.3,"n":5.42,"v":1.6},{"r":4.35,"n":5.42,"v":0.8},{"r":4.4,"n":5.42,"v":1.7},{"r":4.45,"n":5.42,"v":2.3},{"r":4.5,"n":5.42,"v":0.8},{"r":4.55,"n":5.42,"v":1.3},{"r":4.6,"n":5.42,"v":1.3},{"r":4.65,"n":5.42,"v":1.1},{"r":4.7,"n":5.42,"v":1.2},
{"r":4.2,"n":5.5,"v":2.2},{"r":4.25,"n":5.5,"v":2.7},{"r":4.3,"n":5.5,"v":2},{"r":4.35,"n":5.5,"v":0.35},{"r":4.4,"n":5.5,"v":1.4},{"r":4.45,"n":5.5,"v":2.2},{"r":4.5,"n":5.5,"v":0.4},{"r":4.55,"n":5.5,"v":2.2},{"r":4.6,"n":5.5,"v":2.3},{"r":4.65,"n":5.5,"v":1.4},{"r":4.7,"n":5.5,"v":1.3},
{"r":4.2,"n":5.58,"v":2.2},{"r":4.25,"n":5.58,"v":2.9},{"r":4.3,"n":5.58,"v":2.4},{"r":4.35,"n":5.58,"v":0.6},{"r":4.4,"n":5.58,"v":1.7},{"r":4.45,"n":5.58,"v":2.2},{"r":4.5,"n":5.58,"v":0.35},{"r":4.55,"n":5.58,"v":2.3},{"r":4.6,"n":5.58,"v":2.5},{"r":4.65,"n":5.58,"v":1.4},{"r":4.7,"n":5.58,"v":1.3},
{"r":4.2,"n":5.66,"v":2.2},{"r":4.25,"n":5.66,"v":3},{"r":4.3,"n":5.66,"v":2.6},{"r":4.35,"n":5.66,"v":1.3},{"r":4.4,"n":5.66,"v":2.5},{"r":4.45,"n":5.66,"v":3.2},{"r":4.5,"n":5.66,"v":0.7},{"r":4.55,"n":5.66,"v":2.5},{"r":4.6,"n":5.66,"v":2.5},{"r":4.65,"n":5.66,"v":1.5},{"r":4.7,"n":5.66,"v":1.25},
{"r":4.2,"n":5.74,"v":2.2},{"r":4.25,"n":5.74,"v":3},{"r":4.3,"n":5.74,"v":2.6},{"r":4.35,"n":5.74,"v":1.1},{"r":4.4,"n":5.74,"v":2.7},{"r":4.45,"n":5.74,"v":3.5},{"r":4.5,"n":5.74,"v":0.8},{"r":4.55,"n":5.74,"v":2.7},{"r":4.6,"n":5.74,"v":2.7},{"r":4.65,"n":5.74,"v":1.6},{"r":4.7,"n":5.74,"v":1.2},
{"r":4.2,"n":5.82,"v":2.2},{"r":4.25,"n":5.82,"v":3},{"r":4.3,"n":5.82,"v":2.7},{"r":4.35,"n":5.82,"v":1},{"r":4.4,"n":5.82,"v":2.6},{"r":4.45,"n":5.82,"v":3.1},{"r":4.5,"n":5.82,"v":0.7},{"r":4.55,"n":5.82,"v":2.6},{"r":4.6,"n":5.82,"v":2.5},{"r":4.65,"n":5.82,"v":1.5},{"r":4.7,"n":5.82,"v":1.2},
{"r":4.2,"n":5.9,"v":2.2},{"r":4.25,"n":5.9,"v":3},{"r":4.3,"n":5.9,"v":2.7},{"r":4.35,"n":5.9,"v":1.3},{"r":4.4,"n":5.9,"v":2.9},{"r":4.45,"n":5.9,"v":3.3},{"r":4.5,"n":5.9,"v":0.9},{"r":4.55,"n":5.9,"v":2.6},{"r":4.6,"n":5.9,"v":2.4},{"r":4.65,"n":5.9,"v":1.4},{"r":4.7,"n":5.9,"v":1.2},
{"r":4.2,"n":5.98,"v":2.2},{"r":4.25,"n":5.98,"v":2.9},{"r":4.3,"n":5.98,"v":2.6},{"r":4.35,"n":5.98,"v":1.4},{"r":4.4,"n":5.98,"v":2.6},{"r":4.45,"n":5.98,"v":2.8},{"r":4.5,"n":5.98,"v":0.9},{"r":4.55,"n":5.98,"v":2.5},{"r":4.6,"n":5.98,"v":2.2},{"r":4.65,"n":5.98,"v":1.4},{"r":4.7,"n":5.98,"v":1.2}
],
"green":[{"r":4.57,"n":4.02},{"r":4.586,"n":4.11},{"r":4.646,"n":4.32},{"r":4.686,"n":4.46},{"r":4.74,"n":4.6},{"r":4.79,"n":4.74},{"r":4.82,"n":4.81},{"r":4.88,"n":4.95},{"r":4.95,"n":5.05},{"r":5.02,"n":5.13},{"r":5.16,"n":5.28},{"r":5.24,"n":5.34},{"r":5.35,"n":5.4},{"r":5.49,"n":5.44},{"r":5.67,"n":5.46},{"r":5.85,"n":5.45},{"r":6,"n":5.42},{"r":6.2,"n":5.36},{"r":6.39,"n":5.3},{"r":6.6,"n":5.21},{"r":6.83,"n":5.12},{"r":7.1,"n":5},{"r":7.4,"n":4.84},{"r":7.68,"n":4.7},{"r":7.96,"n":4.55},{"r":8.24,"n":4.4},{"r":8.52,"n":4.27},{"r":8.88,"n":4.1},{"r":9.08,"n":4.02}],
"cyanDash":[{"r":8.46,"n":6},{"r":8.74,"n":5.73},{"r":9.05,"n":5.48},{"r":9.36,"n":5.24},{"r":9.66,"n":5.01},{"r":10,"n":4.77}],
"cyanLine":[{"r":8.9,"n":6},{"r":9.08,"n":5.82},{"r":9.3,"n":5.61},{"r":9.52,"n":5.42},{"r":9.75,"n":5.23},{"r":10,"n":5.02}],
"bar":[{"v":0.2},{"v":0.25},{"v":0.3},{"v":0.35},{"v":0.4},{"v":0.45},{"v":0.5},{"v":0.55},{"v":0.6},{"v":0.65},{"v":0.7},{"v":0.75},{"v":0.8},{"v":0.85},{"v":0.9},{"v":0.95},{"v":1},{"v":1.05},{"v":1.1},{"v":1.15},{"v":1.2},{"v":1.25},{"v":1.3},{"v":1.35},{"v":1.4},{"v":1.45},{"v":1.5},{"v":1.55},{"v":1.6},{"v":1.65},{"v":1.7},{"v":1.75},{"v":1.8},{"v":1.85},{"v":1.9},{"v":1.95},{"v":2},{"v":2.05},{"v":2.1},{"v":2.15},{"v":2.2},{"v":2.25},{"v":2.3},{"v":2.35},{"v":2.4},{"v":2.45},{"v":2.5},{"v":2.55},{"v":2.6},{"v":2.65},{"v":2.7},{"v":2.75},{"v":2.8},{"v":2.85},{"v":2.9},{"v":2.95},{"v":3},{"v":3.05},{"v":3.1},{"v":3.15},{"v":3.2},{"v":3.25},{"v":3.3},{"v":3.35},{"v":3.4},{"v":3.45},{"v":3.5},{"v":3.55},{"v":3.6},{"v":3.65},{"v":3.7},{"v":3.75},{"v":3.8},{"v":3.85},{"v":3.9},{"v":3.95},{"v":4},{"v":4.05},{"v":4.1},{"v":4.15},{"v":4.2},{"v":4.25},{"v":4.3},{"v":4.35},{"v":4.4},{"v":4.45},{"v":4.5},{"v":4.55},{"v":4.6},{"v":4.65},{"v":4.7},{"v":4.75},{"v":4.8}],
"tipLow":[{"x":0,"y":0.19,"y2":0.19},{"x":0.5,"y":0.19,"y2":-0.03},{"x":1,"y":0.19,"y2":0.19}],
"outline":[{"o":0,"x":0,"y":0.19},{"o":1,"x":0.5,"y":-0.03},{"o":2,"x":1,"y":0.19},{"o":3,"x":1,"y":4.811},{"o":4,"x":0.5,"y":5.026},{"o":5,"x":0,"y":4.811},{"o":6,"x":0,"y":0.19}]
},
"hconcat":[
{"width":1092,"height":953,"view":{"fill":"#0a0000","stroke":null},
"resolve":{"axis":{"x":"independent","y":"independent"}},
"layer":[
{"data":{"name":"coarse"},"mark":{"type":"rect","width":28,"height":43,"clip":true},
"encoding":{
"x":{"field":"r","type":"quantitative","scale":{"domain":[4,10],"nice":false,"zero":false},"axis":{"orient":"bottom","values":[4,5,6,7,8,9,10],"format":"d","title":"R  [ GM/c² ]","titleFontStyle":"italic","titleFont":"Liberation Serif","titleFontSize":50,"titleFontWeight":"normal","titleColor":"#222","titlePadding":27,"labelFont":"Liberation Serif","labelFontSize":48,"labelColor":"#111","labelPadding":7,"labelFlush":false,"tickSize":12,"tickColor":"#333","tickWidth":1.5,"grid":false,"domain":true,"domainColor":"#000","domainWidth":2,"zindex":1}},
"y":{"field":"n","type":"quantitative","scale":{"domain":[4,6],"nice":false,"zero":false},"axis":{"orient":"left","values":[4,4.5,5,5.5,6],"format":".1f","title":"ν [ ×10⁻³ c³ /GM ]","titleFontStyle":"italic","titleFont":"Liberation Serif","titleFontSize":52,"titleFontWeight":"normal","titleColor":"#222","titlePadding":18,"labelFont":"Liberation Serif","labelFontSize":48,"labelColor":"#111","labelPadding":12,"labelFlush":false,"tickSize":12,"tickColor":"#333","tickWidth":1.5,"grid":false,"domain":true,"domainColor":"#000","domainWidth":2,"zindex":1}},
"color":{"field":"v","type":"quantitative","scale":{"domain":[0.2,1.84,3.56,4.13,4.7],"range":["#0a0000","#ff0000","#ffff00","#ffff80","#ffffff"],"interpolate":"rgb","clamp":true},"legend":null}}},
{"data":{"name":"coarse"},"transform":[{"filter":"datum.n!=5.26&&datum.n!=5.34"}],"mark":{"type":"rect","width":44,"height":62,"opacity":0.42,"clip":true},
"encoding":{
"x":{"field":"r","type":"quantitative","axis":null},
"y":{"field":"n","type":"quantitative","axis":null},
"color":{"field":"v","type":"quantitative","legend":null}}},
{"data":{"name":"coarse"},"transform":[{"filter":"datum.n==5.26||datum.n==5.34"}],"mark":{"type":"rect","width":44,"height":43,"opacity":0.42,"clip":true},
"encoding":{
"x":{"field":"r","type":"quantitative","axis":null},
"y":{"field":"n","type":"quantitative","axis":null},
"color":{"field":"v","type":"quantitative","legend":null}}},
{"data":{"name":"fine"},"mark":{"type":"rect","width":10,"height":43,"clip":true},
"encoding":{
"x":{"field":"r","type":"quantitative","axis":null},
"y":{"field":"n","type":"quantitative","axis":null},
"color":{"field":"v","type":"quantitative","legend":null}}},
{"data":{"name":"fine"},"transform":[{"filter":"datum.n!=5.26&&datum.n!=5.34"}],"mark":{"type":"rect","width":10,"height":62,"opacity":0.5,"clip":true},
"encoding":{
"x":{"field":"r","type":"quantitative","axis":null},
"y":{"field":"n","type":"quantitative","axis":null},
"color":{"field":"v","type":"quantitative","legend":null}}},
{"data":{"name":"green"},"mark":{"type":"line","color":"#008222","strokeWidth":8,"strokeDash":[17,16],"interpolate":"cardinal","clip":true},
"encoding":{"x":{"field":"r","type":"quantitative","axis":null},"y":{"field":"n","type":"quantitative","axis":null},"order":{"field":"r"}}},
{"data":{"name":"cyanDash"},"mark":{"type":"line","color":"#00bcbc","strokeWidth":9,"strokeDash":[18,16],"interpolate":"monotone","clip":true},
"encoding":{"x":{"field":"r","type":"quantitative","axis":null},"y":{"field":"n","type":"quantitative","axis":null}}},
{"data":{"name":"cyanLine"},"mark":{"type":"line","color":"#00bcbc","strokeWidth":8,"interpolate":"monotone","clip":true},
"encoding":{
"x":{"field":"r","type":"quantitative","axis":{"orient":"top","values":[4,5,6,7,8,9,10],"labels":false,"title":null,"tickSize":12,"tickColor":"#333","tickWidth":1.5,"grid":false,"domain":true,"domainColor":"#000","domainWidth":2,"zindex":1}},
"y":{"field":"n","type":"quantitative","axis":{"orient":"right","values":[4,4.5,5,5.5,6],"labels":false,"title":null,"tickSize":12,"tickColor":"#333","tickWidth":1.5,"grid":false,"domain":true,"domainColor":"#000","domainWidth":2,"zindex":1}}}}
]},
{"width":45,"height":953,"view":{"stroke":null},
"resolve":{"axis":{"x":"independent","y":"independent"}},
"layer":[
{"data":{"name":"bar"},"mark":{"type":"rect","width":45,"height":10},
"encoding":{
"x":{"datum":0.5,"type":"quantitative","scale":{"domain":[0,1],"nice":false,"zero":false},"axis":null},
"y":{"field":"v","type":"quantitative","scale":{"domain":[-0.03,5.026],"nice":false,"zero":false},"axis":{"orient":"right","values":[0.2,0.7,1.2,1.7,2.2,2.7,3.2,3.7,4.2,4.7],"format":".1f","title":"log  PDS  ṁ","titleAngle":270,"titleFont":"Liberation Serif","titleFontSize":50,"titleFontWeight":"normal","titleColor":"#222","titlePadding":60,"labelFont":"Liberation Serif","labelFontSize":42,"labelColor":"#111","labelPadding":23,"labelFlush":false,"tickSize":-12,"tickColor":"#222","tickWidth":1.5,"grid":false,"domain":false,"zindex":1}},
"color":{"field":"v","type":"quantitative","scale":{"domain":[0.2,1.84,3.56,4.13,4.7],"range":["#0a0000","#ff0000","#ffff00","#ffff80","#ffffff"],"interpolate":"rgb","clamp":true},"legend":null}}},
{"data":{"name":"tipLow"},"mark":{"type":"area","color":"#0a0000"},
"encoding":{"x":{"field":"x","type":"quantitative","axis":null},"y":{"field":"y","type":"quantitative","axis":null},"y2":{"field":"y2"}}},
{"data":{"name":"outline"},"mark":{"type":"line","color":"#222222","strokeWidth":2.5},
"encoding":{"x":{"field":"x","type":"quantitative","axis":null},"y":{"field":"y","type":"quantitative","axis":null},"order":{"field":"o"}}}
]}
]}
